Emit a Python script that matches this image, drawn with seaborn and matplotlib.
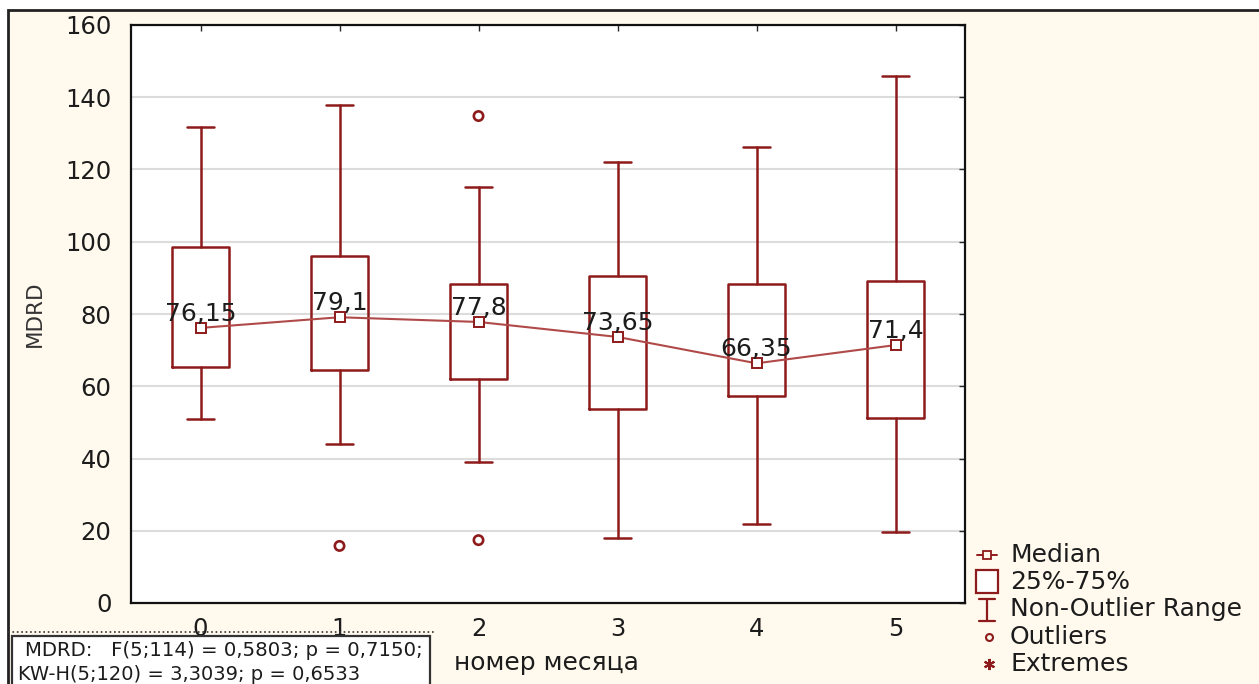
import matplotlib
matplotlib.use("Agg")
import matplotlib.pyplot as plt
import seaborn as sns
from matplotlib.lines import Line2D
from matplotlib.patches import Rectangle

# Statistica-style box plot: MDRD by month number
months = [0, 1, 2, 3, 4, 5]
medians = [76.15, 79.1, 77.8, 73.65, 66.35, 71.4]
q1 = [65.3, 64.5, 62.0, 53.7, 57.3, 51.2]
q3 = [98.5, 96.1, 88.3, 90.5, 88.3, 89.1]
whisker_lo = [50.9, 44.0, 39.0, 18.0, 21.9, 19.7]
whisker_hi = [131.8, 137.9, 115.2, 122.1, 126.2, 145.9]
outlier_month = [1, 2, 2]
outlier_value = [15.8, 134.8, 17.4]
y_ticks = [0, 20, 40, 60, 80, 100, 120, 140, 160]
stats_text = ["MDRD:   F(5;114) = 0,5803; p = 0,7150;",
              "KW-H(5;120) = 3,3039; p = 0,6533"]
legend_labels = ["Median", "25%-75%", "Non-Outlier Range", "Outliers", "Extremes"]

W, H = 1259, 684
RED = "#8e1b1b"
LINE_RED = "#b04a48"
CREAM = "#fff9ee"
TXT = "#1c1c1c"

sns.set_style("white")
plt.rcParams["font.family"] = ["DejaVu Sans"]

fig = plt.figure(figsize=(W / 100, H / 100), dpi=100, facecolor="white")


def fx(px):
    return px / W


def fy(py):
    return 1 - py / H


# cream page with a frame on top/left
fig.add_artist(Rectangle((fx(8), fy(700)), 1.2, fy(10) - fy(700),
                         transform=fig.transFigure, facecolor=CREAM,
                         edgecolor="#222222", linewidth=2, zorder=-5))

ax = fig.add_axes([fx(131), fy(603), fx(965) - fx(131), fy(25) - fy(603)])
ax.set_facecolor("white")

stats = [
    {"med": m, "q1": a, "q3": b, "whislo": lo, "whishi": hi, "fliers": []}
    for m, a, b, lo, hi in zip(medians, q1, q3, whisker_lo, whisker_hi)
]
ax.bxp(stats, positions=months, widths=0.41, showfliers=False,
       boxprops=dict(color=RED, linewidth=1.8),
       whiskerprops=dict(color=RED, linewidth=1.8),
       capprops=dict(color=RED, linewidth=1.8),
       medianprops=dict(linewidth=0),
       capwidths=0.2, manage_ticks=False)

sns.lineplot(x=months, y=medians, ax=ax, color=LINE_RED, linewidth=1.5,
             marker="s", markersize=7, markerfacecolor="white",
             markeredgecolor=RED, markeredgewidth=1.4, zorder=4)
sns.scatterplot(x=outlier_month, y=outlier_value, ax=ax, marker="o", s=45,
                facecolor="none", edgecolor=RED, linewidth=1.9, zorder=4)

for m, v in zip(months, medians):
    ax.annotate(f"{v:g}".replace(".", ","), (m, v), xytext=(0, 10),
                textcoords="offset points", ha="center", va="center",
                fontsize=18, color=TXT, zorder=5)

ax.set_xlim(-0.5, 5.5)
ax.set_ylim(0, 160)
ax.set_xticks(months)
ax.set_yticks(y_ticks)
ax.tick_params(direction="in", top=True, right=True, length=4, width=1,
               labelsize=17.5, labelcolor=TXT)
ax.tick_params(axis="y", pad=14)
ax.tick_params(axis="x", pad=10)
ax.yaxis.grid(True, color="#dcdcdc", linewidth=1.5)
ax.set_axisbelow(True)
for sp in ax.spines.values():
    sp.set_color("#111111")
    sp.set_linewidth(1.6)

ax.set_ylabel("MDRD", fontsize=15.5, color="#333333")
ax.yaxis.label.set_va("center")
ax.yaxis.set_label_coords(-0.115, 0.5)
ax.set_xlabel("номер месяца", fontsize=18, color=TXT)
ax.xaxis.label.set_va("center")
ax.xaxis.set_label_coords(0.498, -0.104)

# stats box at bottom-left
fig.add_artist(Line2D([fx(8), fx(436)], [fy(632), fy(632)], transform=fig.transFigure,
                      color="#333333", linewidth=1.2, linestyle=":"))
fig.add_artist(Rectangle((fx(12), fy(700)), fx(430) - fx(12), fy(636) - fy(700),
                         transform=fig.transFigure, facecolor="white",
                         edgecolor="#333333", linewidth=1.6, zorder=3))
fig.text(fx(25), fy(651), stats_text[0], fontsize=14.2, color=TXT, va="center", zorder=4)
fig.text(fx(18), fy(675), stats_text[1], fontsize=14.0, color=TXT, va="center", zorder=4)

# legend drawn by hand, Statistica style
sym_x = 987
ys = [555, 582, 609, 637, 664]
fig.add_artist(Line2D([fx(977), fx(997)], [fy(ys[0])] * 2, transform=fig.transFigure,
                      color=RED, linewidth=1.4))
fig.add_artist(Line2D([fx(sym_x)], [fy(ys[0])], transform=fig.transFigure, marker="s",
                      markersize=6, markerfacecolor=CREAM, markeredgecolor=RED,
                      markeredgewidth=1.3))
fig.add_artist(Rectangle((fx(976), fy(593)), fx(998) - fx(976), fy(570) - fy(593),
                         transform=fig.transFigure, facecolor="white",
                         edgecolor=RED, linewidth=1.6))
fig.add_artist(Line2D([fx(sym_x)] * 2, [fy(599), fy(621)], transform=fig.transFigure,
                      color=RED, linewidth=1.6))
for cy in (599, 621):
    fig.add_artist(Line2D([fx(979), fx(995)], [fy(cy)] * 2, transform=fig.transFigure,
                          color=RED, linewidth=1.6))
fig.add_artist(Line2D([fx(989)], [fy(ys[3])], transform=fig.transFigure, marker="o",
                      markersize=5, markerfacecolor="none", markeredgecolor=RED,
                      markeredgewidth=1.5))
fig.add_artist(Line2D([fx(989)], [fy(ys[4])], transform=fig.transFigure, marker=(6, 2, 0),
                      markersize=8, markeredgecolor=RED, markeredgewidth=1.5))
for lab, y in zip(legend_labels, ys):
    fig.text(fx(1010), fy(y), lab, fontsize=18, color=TXT, va="center")

fig.savefig("out.png", dpi=100, facecolor=fig.get_facecolor())
